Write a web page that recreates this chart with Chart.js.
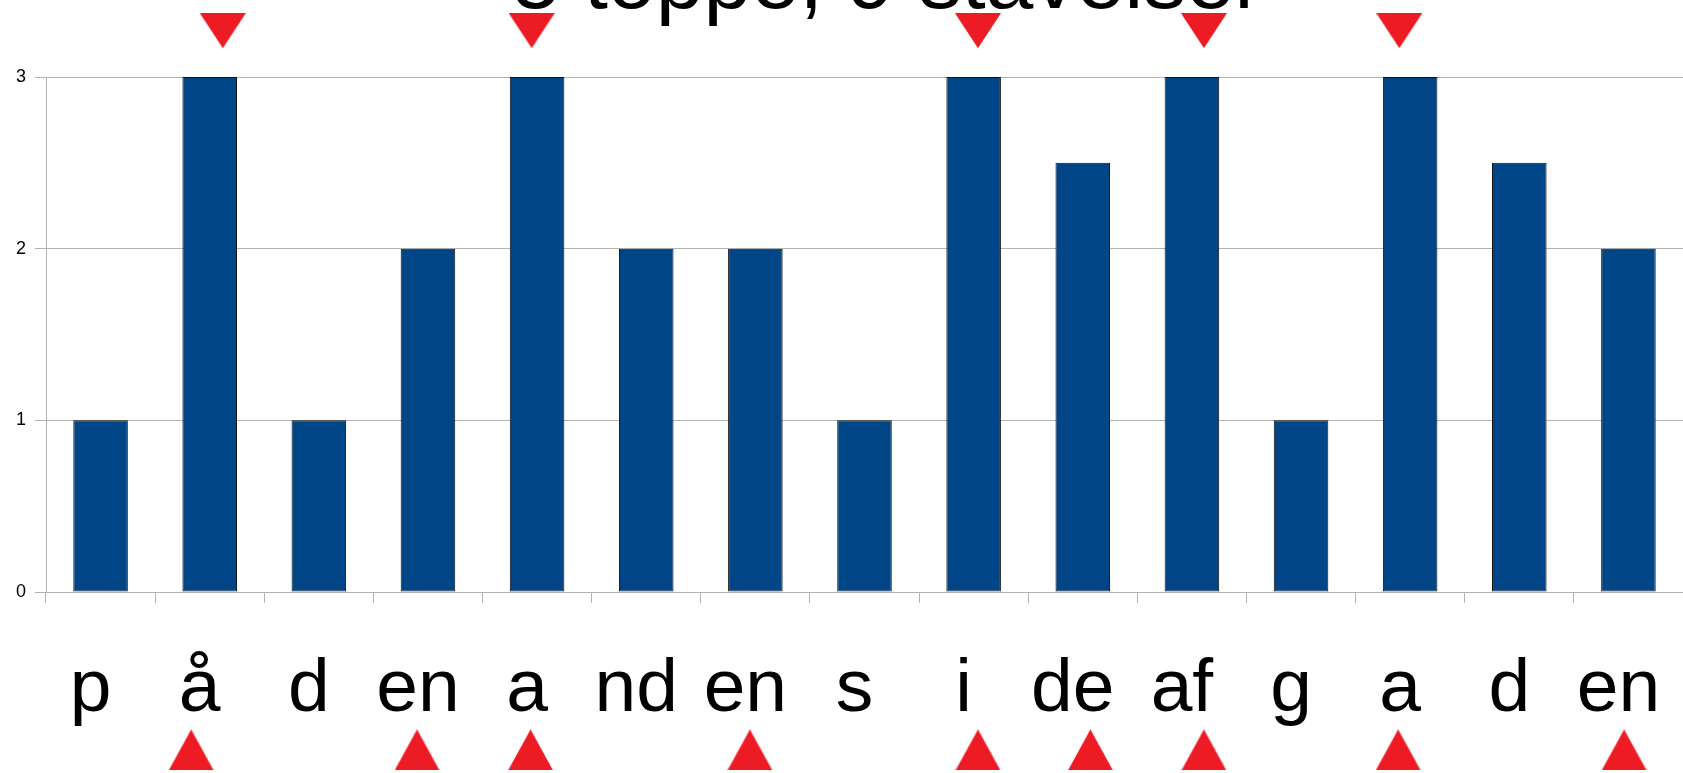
<!DOCTYPE html>
<html>
<head>
<meta charset="utf-8">
<script src="https://cdn.jsdelivr.net/npm/chart.js@4.4.1/dist/chart.umd.min.js"></script>
<style>
  html, body { margin: 0; padding: 0; background: #fff; overflow: hidden; }
  #wrap { width: 1683px; height: 773px; }
</style>
</head>
<body>
<div id="wrap"><canvas id="chart" width="1683" height="773"></canvas></div>
<script>
// data
const titleText = '5 toppe, 9 stavelser';
const syllables = ['p', 'å', 'd', 'en', 'a', 'nd', 'en', 's', 'i', 'de', 'af', 'g', 'a', 'd', 'en'];
const heights = [1, 3, 1, 2, 3, 2, 2, 1, 3, 2.5, 3, 1, 3, 2.5, 2];

// red markers, x in category units (0 = first bar)
const peakPositions = [1.12, 3.95, 8.04, 10.11, 11.9];
const stressPositions = [0.83, 2.9, 3.94, 5.95, 8.04, 9.07, 10.11, 11.89, 13.96];
const peakLevel = 3.27;
const stressLevel = -0.92;

const gridColor = '#b3b3b3';
const barColor = '#004586';
const markColor = '#ed1c24';

function makeTriangle(w, h, down) {
  const c = document.createElement('canvas');
  c.width = w;
  c.height = h;
  const g = c.getContext('2d');
  g.fillStyle = markColor;
  g.beginPath();
  if (down) {
    g.moveTo(0, 0); g.lineTo(w, 0); g.lineTo(w / 2, h);
  } else {
    g.moveTo(w / 2, 0); g.lineTo(w, h); g.lineTo(0, h);
  }
  g.closePath();
  g.fill();
  return c;
}

const downTri = makeTriangle(46, 35, true);
const upTri = makeTriangle(45, 41, false);

// title sits a bit right of the plot centre in the original
const titlePlugin = {
  id: 'topTitle',
  afterDraw(chart) {
    const ctx = chart.ctx;
    const a = chart.chartArea;
    ctx.save();
    ctx.font = '86px "Liberation Sans", Arial, sans-serif';
    ctx.fillStyle = '#000';
    ctx.textAlign = 'center';
    ctx.textBaseline = 'alphabetic';
    ctx.fillText(titleText, (a.left + a.right) / 2 + 23, 8);
    ctx.restore();
  }
};

// markers live outside the plot area; a big radius keeps them from being skipped
const markerDataset = (positions, level, img) => ({
  type: 'scatter',
  xAxisID: 'xm',
  data: positions.map(p => ({ x: p, y: level })),
  pointStyle: img,
  pointRadius: 250,
  pointBorderWidth: 0,
  clip: false,
  order: 1
});

new Chart(document.getElementById('chart'), {
  type: 'bar',
  data: {
    labels: syllables,
    datasets: [
      {
        data: heights,
        backgroundColor: barColor,
        borderColor: '#111',
        borderWidth: 1,
        borderSkipped: false,
        grouped: false,
        barPercentage: 0.5,
        categoryPercentage: 1,
        order: 2
      },
      markerDataset(peakPositions, peakLevel, downTri),
      markerDataset(stressPositions, stressLevel, upTri)
    ]
  },
  options: {
    responsive: false,
    animation: false,
    events: [],
    layout: { autoPadding: false, padding: { top: 77, left: 0, right: 0, bottom: 0 } },
    plugins: {
      legend: { display: false },
      tooltip: { enabled: false },
      title: { display: false }
    },
    scales: {
      x: {
        offset: true,
        grid: {
          offset: true,
          drawOnChartArea: false,
          color: gridColor,
          tickLength: 11
        },
        border: { color: gridColor },
        ticks: {
          color: '#000',
          // tall line height instead of padding, so the axis does not shrink the plot
          padding: 0,
          labelOffset: -10,
          maxRotation: 0,
          autoSkip: false,
          font: { family: '"Liberation Sans", Arial, sans-serif', size: 75, lineHeight: 2.32 }
        },
        afterFit: s => { s.height = 181; s.paddingLeft = 0; s.paddingRight = 0; }
      },
      xm: {
        type: 'linear',
        display: false,
        offset: false,
        grid: { offset: false },
        min: -0.5,
        max: 14.5
      },
      y: {
        min: 0,
        max: 3,
        grid: { color: gridColor, tickLength: 11 },
        border: { color: gridColor },
        ticks: {
          stepSize: 1,
          color: '#000',
          padding: 9,
          font: { family: '"Liberation Sans", Arial, sans-serif', size: 18 }
        },
        afterFit: s => { s.width = 46; }
      }
    }
  },
  plugins: [titlePlugin]
});
</script>
</body>
</html>
